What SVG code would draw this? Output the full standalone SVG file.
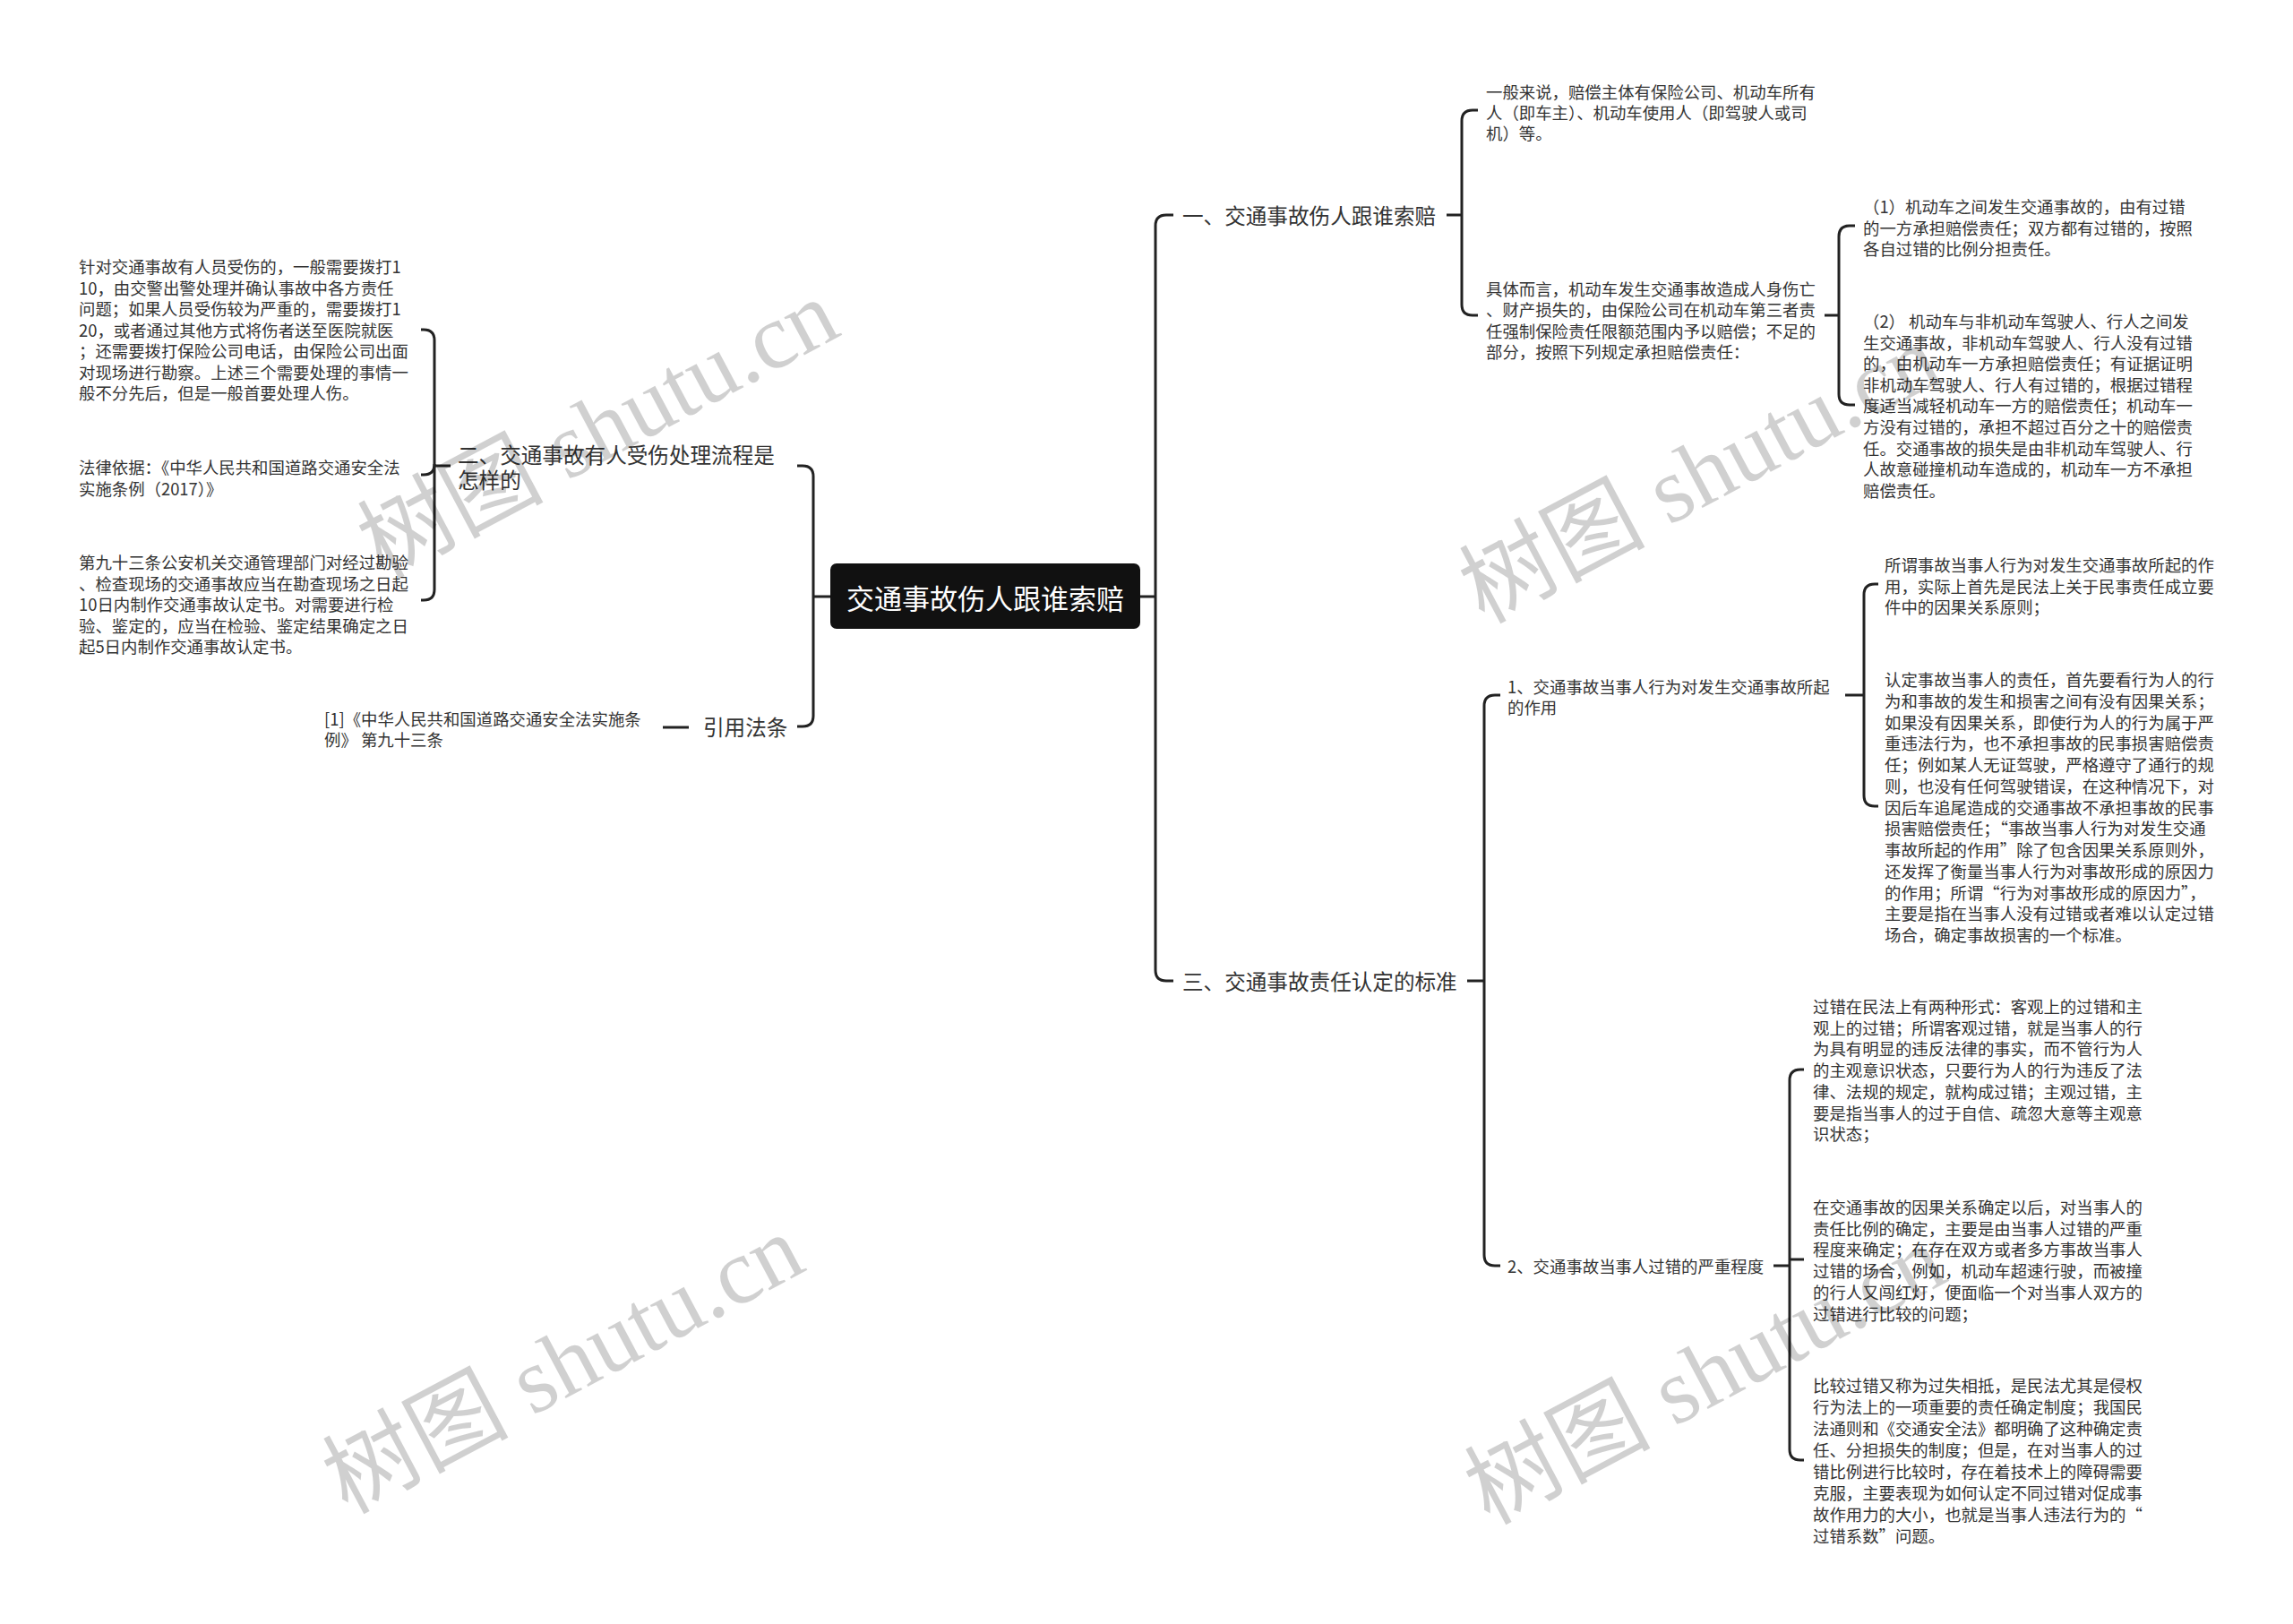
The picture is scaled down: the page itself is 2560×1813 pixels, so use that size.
<svg xmlns="http://www.w3.org/2000/svg" width="2560" height="1813" viewBox="0 0 2560 1813">
<style>
text{font-family:"Noto Sans CJK SC","Noto Sans",sans-serif;fill:#333;dominant-baseline:central}
.leaf{font-size:18.4px}
.l2{font-size:18.4px}
.l1{font-size:23.6px}
.root{font-size:31px;fill:#fff;text-anchor:middle}
.conn path{fill:none;stroke:#222;stroke-width:3}
.wm{font-family:"Liberation Serif","Noto Sans CJK SC",serif;font-size:104px;fill:#000;opacity:0.18;dominant-baseline:alphabetic;text-anchor:middle}
</style>
<rect width="2560" height="1813" fill="#fff"/>
<g id="connectors" class="conn">
<path d="M1273 666H1290"/>
<path d="M1310 240H1302Q1290 240 1290 252V1083Q1290 1095 1302 1095H1310"/>
<path d="M1615 240H1632"/>
<path d="M1650 123H1644Q1632 123 1632 135V340Q1632 352 1644 352H1650"/>
<path d="M2037 352H2053"/>
<path d="M2071 252H2065Q2053 252 2053 264V440Q2053 452 2065 452H2071"/>
<path d="M1638 1095H1657"/>
<path d="M1675 776H1669Q1657 776 1657 788V1401Q1657 1413 1669 1413H1675"/>
<path d="M2060 776H2081"/>
<path d="M2097 652H2093Q2081 652 2081 664V888Q2081 900 2093 900H2097"/>
<path d="M1980 1413H1998"/>
<path d="M2014 1194H2010Q1998 1194 1998 1206V1618Q1998 1630 2010 1630H2014"/>
<path d="M1998 1406H2014"/>
<path d="M927 666H908"/>
<path d="M890 520H896Q908 520 908 532V799Q908 811 896 811H890"/>
<path d="M503 520H485"/>
<path d="M470 368H473Q485 368 485 380V658Q485 670 473 670H470"/>
<path d="M485 518Q485 530 473 530H470"/>
<path d="M769 812H740"/>
</g>
<g id="root">
<rect x="927" y="629" width="346" height="73" rx="7" fill="#111"/>
<text class="root" x="1100" y="666">交通事故伤人跟谁索赔</text>
</g>
<g id="b1">
<text class="l1" x="1320" y="240">一、交通事故伤人跟谁索赔</text>
</g>
<g id="b1-leaf1">
<text class="leaf"><tspan x="1659" y="101.7">一般来说，赔偿主体有保险公司、机动车所有</tspan><tspan x="1659" y="125">人（即车主）、机动车使用人（即驾驶人或司</tspan><tspan x="1659" y="148.3">机）等。</tspan></text>
</g>
<g id="b1-leaf2">
<text class="leaf"><tspan x="1659" y="322">具体而言，机动车发生交通事故造成人身伤亡</tspan><tspan x="1659" y="345.3">、财产损失的，由保险公司在机动车第三者责</tspan><tspan x="1659" y="368.6">任强制保险责任限额范围内予以赔偿；不足的</tspan><tspan x="1659" y="391.9">部分，按照下列规定承担赔偿责任：</tspan></text>
</g>
<g id="b1-leaf2-1">
<text class="leaf"><tspan x="2080" y="230">（1）机动车之间发生交通事故的，由有过错</tspan><tspan x="2080" y="253.5">的一方承担赔偿责任；双方都有过错的，按照</tspan><tspan x="2080" y="277">各自过错的比例分担责任。</tspan></text>
</g>
<g id="b1-leaf2-2">
<text class="leaf"><tspan x="2080" y="358">（2） 机动车与非机动车驾驶人、行人之间发</tspan><tspan x="2080" y="381.6">生交通事故，非机动车驾驶人、行人没有过错</tspan><tspan x="2080" y="405.2">的，由机动车一方承担赔偿责任；有证据证明</tspan><tspan x="2080" y="428.8">非机动车驾驶人、行人有过错的，根据过错程</tspan><tspan x="2080" y="452.4">度适当减轻机动车一方的赔偿责任；机动车一</tspan><tspan x="2080" y="476">方没有过错的，承担不超过百分之十的赔偿责</tspan><tspan x="2080" y="499.6">任。交通事故的损失是由非机动车驾驶人、行</tspan><tspan x="2080" y="523.2">人故意碰撞机动车造成的，机动车一方不承担</tspan><tspan x="2080" y="546.8">赔偿责任。</tspan></text>
</g>
<g id="b3">
<text class="l1" x="1320" y="1095">三、交通事故责任认定的标准</text>
</g>
<g id="b3-n1">
<text class="l2"><tspan x="1683" y="766">1、交通事故当事人行为对发生交通事故所起</tspan><tspan x="1683" y="789">的作用</tspan></text>
</g>
<g id="b3-n1-leaf1">
<text class="leaf"><tspan x="2104" y="630">所谓事故当事人行为对发生交通事故所起的作</tspan><tspan x="2104" y="653.5">用，实际上首先是民法上关于民事责任成立要</tspan><tspan x="2104" y="677">件中的因果关系原则；</tspan></text>
</g>
<g id="b3-n1-leaf2">
<text class="leaf"><tspan x="2104" y="758">认定事故当事人的责任，首先要看行为人的行</tspan><tspan x="2104" y="781.75">为和事故的发生和损害之间有没有因果关系；</tspan><tspan x="2104" y="805.5">如果没有因果关系，即使行为人的行为属于严</tspan><tspan x="2104" y="829.25">重违法行为，也不承担事故的民事损害赔偿责</tspan><tspan x="2104" y="853">任；例如某人无证驾驶，严格遵守了通行的规</tspan><tspan x="2104" y="876.75">则，也没有任何驾驶错误，在这种情况下，对</tspan><tspan x="2104" y="900.5">因后车追尾造成的交通事故不承担事故的民事</tspan><tspan x="2104" y="924.25">损害赔偿责任；“事故当事人行为对发生交通</tspan><tspan x="2104" y="948">事故所起的作用”除了包含因果关系原则外，</tspan><tspan x="2104" y="971.75">还发挥了衡量当事人行为对事故形成的原因力</tspan><tspan x="2104" y="995.5">的作用；所谓“行为对事故形成的原因力”，</tspan><tspan x="2104" y="1019.25">主要是指在当事人没有过错或者难以认定过错</tspan><tspan x="2104" y="1043">场合，确定事故损害的一个标准。</tspan></text>
</g>
<g id="b3-n2">
<text class="l2" x="1683" y="1413">2、交通事故当事人过错的严重程度</text>
</g>
<g id="b3-n2-leaf1">
<text class="leaf"><tspan x="2024" y="1123">过错在民法上有两种形式：客观上的过错和主</tspan><tspan x="2024" y="1146.7">观上的过错；所谓客观过错，就是当事人的行</tspan><tspan x="2024" y="1170.4">为具有明显的违反法律的事实，而不管行为人</tspan><tspan x="2024" y="1194.1">的主观意识状态，只要行为人的行为违反了法</tspan><tspan x="2024" y="1217.8">律、法规的规定，就构成过错；主观过错，主</tspan><tspan x="2024" y="1241.5">要是指当事人的过于自信、疏忽大意等主观意</tspan><tspan x="2024" y="1265.2">识状态；</tspan></text>
</g>
<g id="b3-n2-leaf2">
<text class="leaf"><tspan x="2024" y="1347">在交通事故的因果关系确定以后，对当事人的</tspan><tspan x="2024" y="1370.7">责任比例的确定，主要是由当事人过错的严重</tspan><tspan x="2024" y="1394.4">程度来确定；在存在双方或者多方事故当事人</tspan><tspan x="2024" y="1418.1">过错的场合，例如，机动车超速行驶，而被撞</tspan><tspan x="2024" y="1441.8">的行人又闯红灯，便面临一个对当事人双方的</tspan><tspan x="2024" y="1465.5">过错进行比较的问题；</tspan></text>
</g>
<g id="b3-n2-leaf3">
<text class="leaf"><tspan x="2024" y="1546">比较过错又称为过失相抵，是民法尤其是侵权</tspan><tspan x="2024" y="1570">行为法上的一项重要的责任确定制度；我国民</tspan><tspan x="2024" y="1594">法通则和《交通安全法》都明确了这种确定责</tspan><tspan x="2024" y="1618">任、分担损失的制度；但是，在对当事人的过</tspan><tspan x="2024" y="1642">错比例进行比较时，存在着技术上的障碍需要</tspan><tspan x="2024" y="1666">克服，主要表现为如何认定不同过错对促成事</tspan><tspan x="2024" y="1690">故作用力的大小，也就是当事人违法行为的“</tspan><tspan x="2024" y="1714">过错系数”问题。</tspan></text>
</g>
<g id="b2">
<text class="l1"><tspan x="511" y="507">二、交通事故有人受伤处理流程是</tspan><tspan x="511" y="535">怎样的</tspan></text>
</g>
<g id="b2-leaf1">
<text class="leaf"><tspan x="88" y="297">针对交通事故有人员受伤的，一般需要拨打1</tspan><tspan x="88" y="320.5">10，由交警出警处理并确认事故中各方责任</tspan><tspan x="88" y="344">问题；如果人员受伤较为严重的，需要拨打1</tspan><tspan x="88" y="367.5">20，或者通过其他方式将伤者送至医院就医</tspan><tspan x="88" y="391">；还需要拨打保险公司电话，由保险公司出面</tspan><tspan x="88" y="414.5">对现场进行勘察。上述三个需要处理的事情一</tspan><tspan x="88" y="438">般不分先后，但是一般首要处理人伤。</tspan></text>
</g>
<g id="b2-leaf2">
<text class="leaf"><tspan x="88" y="521">法律依据：《中华人民共和国道路交通安全法</tspan><tspan x="88" y="545">实施条例（2017）》</tspan></text>
</g>
<g id="b2-leaf3">
<text class="leaf"><tspan x="88" y="627">第九十三条公安机关交通管理部门对经过勘验</tspan><tspan x="88" y="650.5">、检查现场的交通事故应当在勘查现场之日起</tspan><tspan x="88" y="674">10日内制作交通事故认定书。对需要进行检</tspan><tspan x="88" y="697.5">验、鉴定的，应当在检验、鉴定结果确定之日</tspan><tspan x="88" y="721">起5日内制作交通事故认定书。</tspan></text>
</g>
<g id="b4">
<text class="l1" x="785" y="811">引用法条</text>
</g>
<g id="b4-leaf1">
<text class="leaf"><tspan x="362" y="802">[1]《中华人民共和国道路交通安全法实施条</tspan><tspan x="362" y="825">例》 第九十三条</tspan></text>
</g>
<g id="watermarks">
<text class="wm" transform="translate(684 510) rotate(-28)">树图 shutu.cn</text>
<text class="wm" transform="translate(1914 560) rotate(-28)">树图 shutu.cn</text>
<text class="wm" transform="translate(645 1554) rotate(-28)">树图 shutu.cn</text>
<text class="wm" transform="translate(1920 1566) rotate(-28)">树图 shutu.cn</text>
</g>
</svg>
